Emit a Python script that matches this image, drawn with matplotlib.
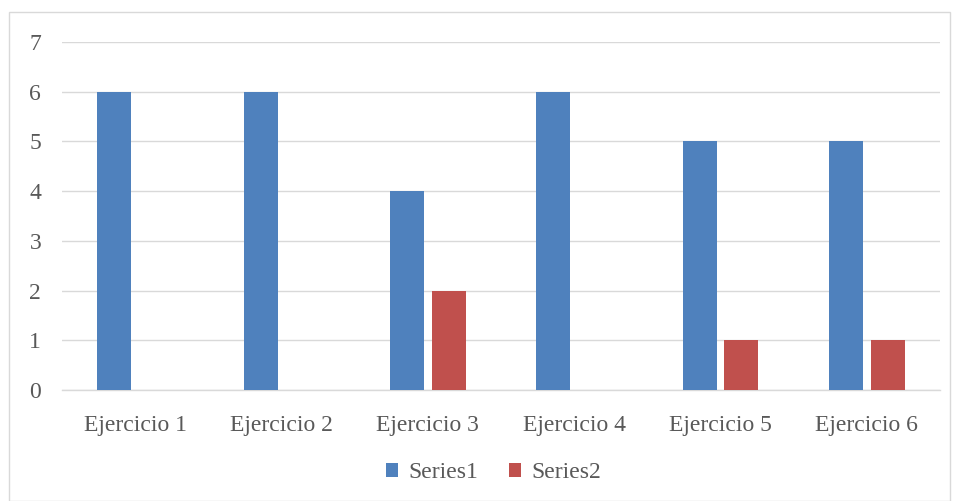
import matplotlib.pyplot as plt
import numpy as np
from matplotlib.patches import Rectangle

categories = ["Ejercicio 1", "Ejercicio 2", "Ejercicio 3", "Ejercicio 4", "Ejercicio 5", "Ejercicio 6"]
series1 = [6, 6, 4, 6, 5, 5]
series2 = [0, 0, 2, 0, 1, 1]
series_names = ["Series1", "Series2"]

plt.rcParams['font.family'] = ['Liberation Serif', 'DejaVu Serif']
text_color = "#595959"

fig = plt.figure(figsize=(9.55, 5.01), dpi=100)
fig.patches.append(Rectangle((9 / 955, 0.0), 941 / 955, 1 - 12 / 501,
                             transform=fig.transFigure, fill=False,
                             edgecolor="#d9d9d9", linewidth=1.0))
ax = fig.add_axes([62 / 955, 1 - 390 / 501, 878 / 955, 348 / 501])

x = np.arange(len(categories))
w = 0.232
off = 0.142
b1 = ax.bar(x - off, series1, w, color="#4f81bd", label=series_names[0], zorder=3)
b2 = ax.bar(x + off, series2, w, color="#c0504d", label=series_names[1], zorder=3)

ax.set_xlim(-0.5, len(categories) - 0.5)
ax.set_ylim(0, 7)
ax.set_yticks(range(0, 8))
ax.set_xticks(x)
ax.set_xticklabels(categories)
ax.grid(axis="y", color="#d9d9d9", linewidth=1.0, zorder=0)
for s in ["top", "right", "left"]:
    ax.spines[s].set_visible(False)
ax.spines["bottom"].set_color("#d9d9d9")
ax.spines["bottom"].set_linewidth(1.0)
ax.tick_params(axis="both", length=0, labelsize=17, colors=text_color)
ax.tick_params(axis="x", pad=18)
ax.tick_params(axis="y", pad=15)

leg = ax.legend(handles=[b1, b2], loc="center", bbox_to_anchor=(0.491, -0.238),
                ncol=2, frameon=False, fontsize=17, handlelength=0.55, handleheight=0.55,
                handletextpad=0.4, columnspacing=1.3)
for t in leg.get_texts():
    t.set_color(text_color)

fig.savefig("out.png", dpi=100)
